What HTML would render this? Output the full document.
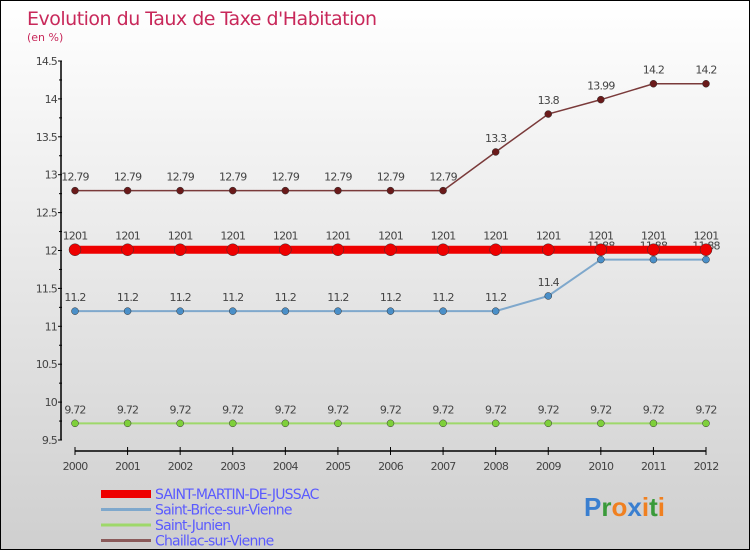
<!DOCTYPE html>
<html><head><meta charset="utf-8"><style>
html,body{margin:0;padding:0}
body{width:750px;height:550px;overflow:hidden;font-family:"DejaVu Sans","Liberation Sans",sans-serif}
#wrap{position:relative;width:748px;height:548px;border:1px solid #000;background:linear-gradient(#ffffff,#cfcfcf)}
</style></head><body>
<div id="wrap">
<svg id="chart" width="748" height="548" style="position:absolute;left:0;top:0">
<text x="26" y="24" font-size="19" fill="#c8285a" style="letter-spacing:-0.5px">Evolution du Taux de Taxe d'Habitation</text>
<text x="26" y="40" font-size="11" fill="#c8285a">(en %)</text>
</svg>
</div>
<script>
const years=[2000,2001,2002,2003,2004,2005,2006,2007,2008,2009,2010,2011,2012];
const yTicks=[9.5,10,10.5,11,11.5,12,12.5,13,13.5,14,14.5];
const yTickLabels=["9.5","10","10.5","11","11.5","12","12.5","13","13.5","14","14.5"];
const seriesNames=["SAINT-MARTIN-DE-JUSSAC","Saint-Brice-sur-Vienne","Saint-Junien","Chaillac-sur-Vienne"];
const sMartin=[12.01,12.01,12.01,12.01,12.01,12.01,12.01,12.01,12.01,12.01,12.01,12.01,12.01];
const sBrice=[11.2,11.2,11.2,11.2,11.2,11.2,11.2,11.2,11.2,11.4,11.88,11.88,11.88];
const sJunien=[9.72,9.72,9.72,9.72,9.72,9.72,9.72,9.72,9.72,9.72,9.72,9.72,9.72];
const sChaillac=[12.79,12.79,12.79,12.79,12.79,12.79,12.79,12.79,13.3,13.8,13.99,14.2,14.2];
const martinLabels=["1201","1201","1201","1201","1201","1201","1201","1201","1201","1201","1201","1201","1201"];
const briceLabels=["11.2","11.2","11.2","11.2","11.2","11.2","11.2","11.2","11.2","11.4","11.88","11.88","11.88"];
const junienLabels=["9.72","9.72","9.72","9.72","9.72","9.72","9.72","9.72","9.72","9.72","9.72","9.72","9.72"];
const chaillacLabels=["12.79","12.79","12.79","12.79","12.79","12.79","12.79","12.79","13.3","13.8","13.99","14.2","14.2"];

const svg=document.getElementById('chart');
const NS='http://www.w3.org/2000/svg';
const X0=74,X1=705,YT=60,YB=439,VMIN=9.5,VMAX=14.5;
const xs=i=>X0+(X1-X0)*i/(years.length-1);
const ys=v=>YB-(v-VMIN)/(VMAX-VMIN)*(YB-YT);
function mk(tag,attrs){const e=document.createElementNS(NS,tag);for(const k in attrs)e.setAttribute(k,attrs[k]);svg.appendChild(e);return e;}

// y axis
let ax=mk('line',{x1:60,y1:YT,x2:60,y2:YB,stroke:'#000','stroke-width':1.5});


yTicks.forEach((v,i)=>{
  const t=mk('line',{x1:57,y1:ys(v),x2:61,y2:ys(v),stroke:'#000'});
  
  
  if(i<yTicks.length-1){const m=mk('line',{x1:58,y1:ys(v+0.25),x2:61,y2:ys(v+0.25),stroke:'#000'});
  
  }
  const l=mk('text',{x:56,y:ys(v)+4,'font-size':11,fill:'#444','text-anchor':'end','letter-spacing':'-0.8'});
  l.textContent=yTickLabels[i];
  
  
});
// x axis
ax=mk('line',{x1:X0,y1:450,x2:X1,y2:450,stroke:'#000','stroke-width':1.5});


years.forEach((y,i)=>{
  const t=mk('line',{x1:xs(i),y1:446,x2:xs(i),y2:454,stroke:'#000'});
  
  
  const l=mk('text',{x:xs(i),y:469,'font-size':11,fill:'#444','text-anchor':'middle','letter-spacing':'-0.8'});
  l.textContent=y;
  
  
});

function series(vals,labels,color,w,r,fill,name){
  const pts=vals.map((v,i)=>xs(i)+','+ys(v)).join(' ');
  const pl=mk('polyline',{points:pts,fill:'none',stroke:color,'stroke-width':w});
  
  
  vals.forEach((v,i)=>{
    const c=mk('circle',{cx:xs(i),cy:ys(v),r:r,fill:fill,stroke:'#333','stroke-width':0.5});
    
    
    const t=mk('text',{x:xs(i),y:ys(v)-10,'font-size':11,fill:'#444','text-anchor':'middle','letter-spacing':'-0.8'});
    t.textContent=labels[i];
    
    
  });
}
series(sJunien,junienLabels,'#9ed86a',2,3.5,'#7ed03a','saint-junien');
series(sBrice,briceLabels,'#7fa8cc',2,3.5,'#4a8fc8','saint-brice');
series(sChaillac,chaillacLabels,'#7a3a3a',1.5,3.5,'#6a1a1a','chaillac');
series(sMartin,martinLabels,'#ee0000',8,6,'#ee0000','saint-martin');

// legend
const legColors=['#ee0000','#7fa8cc','#9ed86a','#8a5a5a'];
const legW=[8,3,3,3];
seriesNames.forEach((n,i)=>{
  const y=493+i*15.5;
  const l=mk('line',{x1:100,y1:y,x2:150,y2:y,stroke:legColors[i],'stroke-width':legW[i]});
  
  
  const t=mk('text',{x:154,y:y+5,'font-size':14,fill:'#5a5aff','letter-spacing':'-0.8'});
  t.textContent=n;
  
  
});
// logo
const lg=mk('text',{x:583,y:515,'font-size':26,'font-weight':'bold','font-family':'Liberation Sans, sans-serif'});


[['P','#3a7fd0'],['r','#3a9a3a'],['o','#f08020'],['x','#3a7fd0'],['i','#f08020'],['t','#3a9a3a'],['i','#f08020']].forEach(([c,col])=>{
  const s=document.createElementNS(NS,'tspan');s.setAttribute('fill',col);s.textContent=c;lg.appendChild(s);
});
</script>
</body></html>
